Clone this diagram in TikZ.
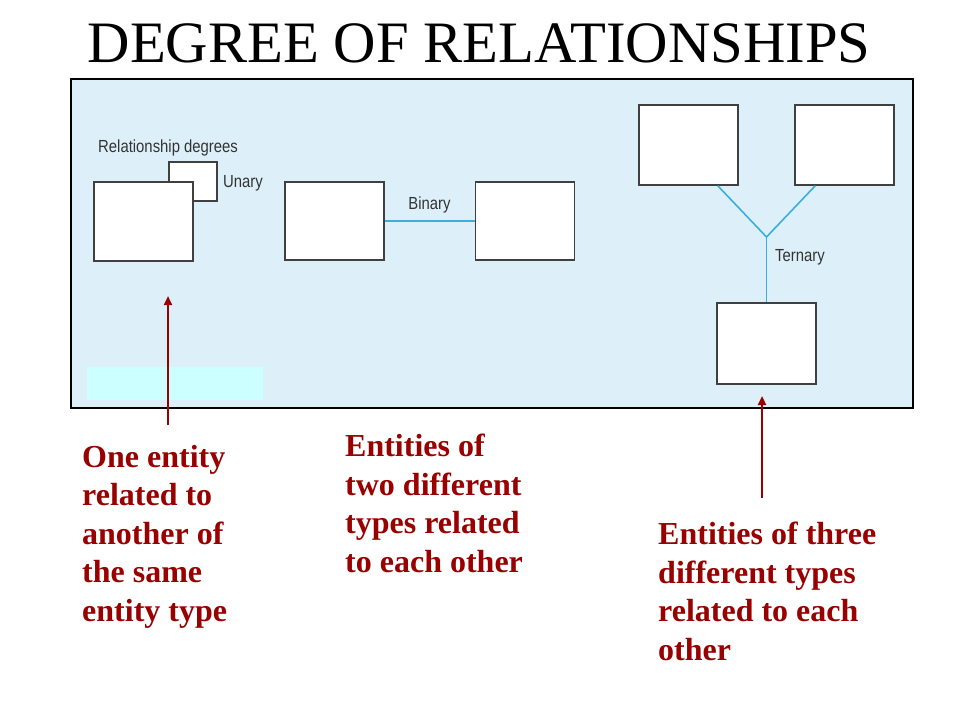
\documentclass[tikz,border=0pt]{standalone}
\usepackage{fontspec}
\setmainfont{Liberation Serif}
\newfontfamily\diagfont{Liberation Sans}
\usetikzlibrary{arrows.meta}
\definecolor{panelbg}{HTML}{DDF0FA}
\definecolor{cyanpatch}{HTML}{CCFFFF}
\definecolor{darkred}{HTML}{990000}
\definecolor{linkblue}{HTML}{3AAEDC}
\definecolor{boxgray}{HTML}{404040}
\newcommand{\narrow}[1]{\scalebox{0.85}[1]{#1}}
\begin{document}
\begin{tikzpicture}[x=1pt,y=-1pt,
  entity/.style={draw=boxgray, fill=white, line width=1.4pt, minimum width=99pt, minimum height=79pt, inner sep=0pt},
  link/.style={draw=linkblue, line width=1.6pt},
  pointer/.style={draw=darkred, line width=2.2pt, -{Triangle[length=9pt,width=8pt]}},
  dlabel/.style={font=\diagfont\fontsize{17.5}{20}\selectfont, text=black!80, inner sep=0pt},
  note/.style={font=\bfseries\fontsize{32}{38.4}\selectfont, text=darkred, align=left, inner sep=0pt, anchor=base west},
  titletext/.style={font=\fontsize{58.7}{66}\selectfont, inner sep=0pt, anchor=base}]
\useasboundingbox (0,0) rectangle (960,720);
\fill[white] (0,0) rectangle (960,720);
\node[titletext] (title) at (479,62) {DEGREE OF RELATIONSHIPS};
% panel
\draw[fill=panelbg, line width=1.3pt] (71,79) rectangle (913,408);
\fill[cyanpatch] (87,367) rectangle (263,400);
% unary
\node[dlabel, anchor=west] (rd) at (98,148) {\narrow{Relationship degrees}};
\node[entity, minimum width=48pt, minimum height=39pt] (u2) at (193,181.5) {};
\node[entity] (u1) at (143.5,221.5) {};
\node[dlabel, anchor=west] (ul) at (223,183) {\narrow{Unary}};
% binary
\node[entity, minimum height=78pt] (b1) at (334.5,221) {};
\node[entity, minimum height=78pt] (b2) at (525,221) {};
\draw[link] (b1.east) -- (b2.west);
\node[dlabel] (bl) at (429.5,205) {\narrow{Binary}};
% ternary
\node[entity, minimum height=80pt] (t1) at (688.5,145) {};
\node[entity, minimum height=80pt] (t2) at (844.5,145) {};
\node[entity, minimum height=81pt] (t3) at (766.5,343.5) {};
\coordinate (junc) at (766.5,237);
\draw[link] ([xshift=-21pt]t1.south east) -- (junc) -- ([xshift=21pt]t2.south west);
\draw[link] (junc) -- (t3.north);
\node[dlabel, anchor=west] (tl) at (775,257) {\narrow{Ternary}};
% pointers
\coordinate (p1s) at (168,425);
\coordinate (p1e) at (168,296);
\coordinate (p3s) at (762,498);
\coordinate (p3e) at (762,396);
\draw[pointer] (p1s) -- (p1e);
\draw[pointer] (p3s) -- (p3e);
% notes (base = baseline of last line)
\node[note] (n1) at (82,621) {One entity\\related to\\another of\\the same\\entity type};
\node[note] (n2) at (345,572) {Entities of\\two different\\types related\\to each other};
\node[note] (n3) at (658,660) {Entities of three\\different types\\related to each\\other};
\end{tikzpicture}
\end{document}
